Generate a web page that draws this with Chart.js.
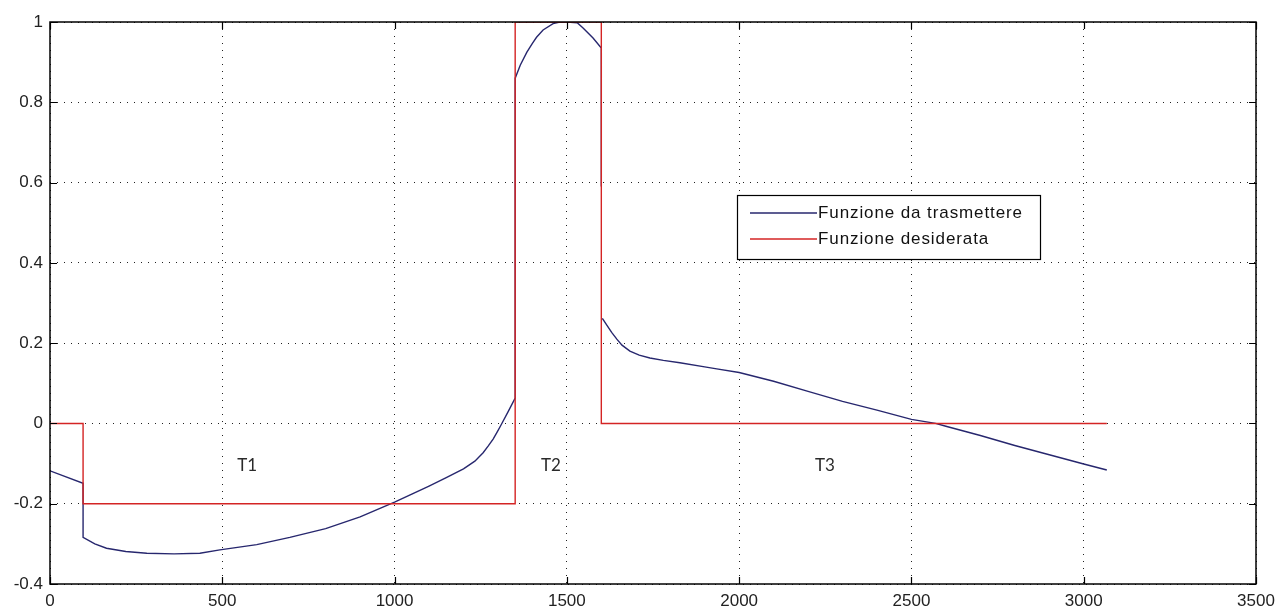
<!DOCTYPE html>
<html>
<head>
<meta charset="utf-8">
<script src="https://cdn.jsdelivr.net/npm/chart.js@4"></script>
<style>
  html, body { margin: 0; padding: 0; background: #fff; }
  #wrap { width: 1277px; height: 614px; }
</style>
</head>
<body>
<div id="wrap"><canvas id="chart" width="1277" height="614"></canvas></div>
<script>
// dati
const blueX = [0, 96, 96, 130, 164, 220, 281, 360, 435, 493, 600, 696, 800, 900, 1000, 1050, 1100, 1150, 1200, 1233, 1257, 1272, 1286, 1298, 1309, 1330, 1350,
  1350, 1365, 1384, 1400, 1412, 1431, 1460, 1480, 1500, 1530, 1547, 1576, 1600, 1600, 1601,
  1603, 1615, 1630, 1645, 1660, 1683, 1710, 1741, 1780, 1828, 1900, 1935, 2000, 2100, 2200, 2300, 2400, 2500, 2570, 2600, 2700, 2800, 2900, 3000, 3067];
const blueY = [-0.118, -0.149, -0.284, -0.3, -0.311, -0.319, -0.3235, -0.325, -0.3235, -0.315, -0.302, -0.284, -0.262, -0.233, -0.196, -0.176, -0.156, -0.135, -0.113, -0.094, -0.073, -0.056, -0.039, -0.021, -0.004, 0.03, 0.063,
  0.86, 0.893, 0.925, 0.947, 0.962, 0.98, 0.996, 1.0, 1.0, 0.998, 0.985, 0.96, 0.935, 0.59, null,
  0.262, 0.246, 0.227, 0.21, 0.195, 0.18, 0.17, 0.163, 0.157, 0.151, 0.141, 0.136, 0.127, 0.105, 0.08, 0.055, 0.033, 0.01, 0.0, -0.007, -0.03, -0.055, -0.078, -0.101, -0.116];

const redX = [0, 96, 96, 1350, 1350, 1600, 1600, 3067];
const redY = [0, 0, -0.2, -0.2, 1, 1, 0, 0];

const seriesNames = ['Funzione da trasmettere', 'Funzione desiderata'];
const seriesColors = ['#27276e', '#d42424'];

const xTicks = [0, 500, 1000, 1500, 2000, 2500, 3000, 3500];
const yTicks = [-0.4, -0.2, 0, 0.2, 0.4, 0.6, 0.8, 1];

const regionLabels = ['T1', 'T2', 'T3'];
const regionX = [572, 1454, 2249];
const regionY = [-0.104, -0.104, -0.104];

function toPoints(xs, ys) {
  return xs.map((x, i) => ({ x: x, y: ys[i] }));
}

// cornice, tacche interne, etichette e legenda stile MATLAB
const matlabFrame = {
  id: 'matlabFrame',
  afterDatasetsDraw(chart) {
    const ctx = chart.ctx;
    const a = chart.chartArea;
    const xs = chart.scales.x, ys = chart.scales.y;
    ctx.save();

    // testi T1 T2 T3
    ctx.fillStyle = '#2a2a2a';
    ctx.font = '17px Lato, "Open Sans", sans-serif';
    ctx.textAlign = 'center';
    ctx.textBaseline = 'middle';
    regionLabels.forEach((t, i) => {
      ctx.fillText(t, xs.getPixelForValue(regionX[i]), ys.getPixelForValue(regionY[i]));
    });

    // cornice
    ctx.strokeStyle = '#000';
    ctx.lineWidth = 1.5;
    ctx.strokeRect(a.left, a.top, a.right - a.left, a.bottom - a.top);

    // tacche interne
    ctx.lineWidth = 1.2;
    const tl = 7;
    ctx.beginPath();
    xTicks.forEach(v => {
      const px = Math.round(xs.getPixelForValue(v)) + 0.5;
      ctx.moveTo(px, a.bottom); ctx.lineTo(px, a.bottom - tl);
      ctx.moveTo(px, a.top); ctx.lineTo(px, a.top + tl);
    });
    yTicks.forEach(v => {
      const py = Math.round(ys.getPixelForValue(v)) + 0.5;
      ctx.moveTo(a.left, py); ctx.lineTo(a.left + tl, py);
      ctx.moveTo(a.right, py); ctx.lineTo(a.right - tl, py);
    });
    ctx.stroke();

    // legenda
    const lx = 737, ly = 195, lw = 303, lh = 64;
    ctx.fillStyle = '#fff';
    ctx.fillRect(lx, ly, lw, lh);
    ctx.strokeStyle = '#000';
    ctx.lineWidth = 1.2;
    ctx.strokeRect(lx + 0.5, ly + 0.5, lw, lh);
    ctx.font = '17px "Liberation Sans", Arial, sans-serif';
    if ('letterSpacing' in ctx) ctx.letterSpacing = '0.9px';
    ctx.textAlign = 'left';
    ctx.textBaseline = 'middle';
    seriesNames.forEach((name, i) => {
      const yy = ly + 18 + i * 26;
      ctx.strokeStyle = seriesColors[i];
      ctx.lineWidth = 1.3;
      ctx.beginPath();
      ctx.moveTo(lx + 13, yy); ctx.lineTo(lx + 80, yy);
      ctx.stroke();
      ctx.fillStyle = '#111';
      ctx.fillText(name, lx + 81, yy);
    });
    ctx.restore();
  }
};

const tickFont = { family: '"Liberation Sans", Arial, sans-serif', size: 17 };

new Chart(document.getElementById('chart'), {
  type: 'line',
  data: {
    datasets: [
      {
        label: seriesNames[0],
        data: toPoints(blueX, blueY),
        borderColor: seriesColors[0],
        borderWidth: 1.4,
        pointRadius: 0,
        tension: 0,
        spanGaps: false,
        order: 2
      },
      {
        label: seriesNames[1],
        data: toPoints(redX, redY),
        borderColor: seriesColors[1],
        borderWidth: 1.4,
        pointRadius: 0,
        tension: 0,
        order: 1
      }
    ]
  },
  options: {
    responsive: false,
    animation: false,
    layout: { padding: { left: 0, top: 22, right: 0, bottom: 0 } },
    scales: {
      x: {
        type: 'linear',
        min: 0,
        max: 3500,
        afterBuildTicks: s => { s.ticks = xTicks.map(v => ({ value: v })); },
        afterFit: s => { s.height = 30; s.paddingRight = 21; s.paddingLeft = 0; },
        grid: { color: '#222', lineWidth: 1, drawTicks: false },
        border: { display: false, dash: [1, 6] },
        ticks: { color: '#222', font: tickFont, padding: 7, maxRotation: 0, callback: v => String(v) }
      },
      y: {
        type: 'linear',
        min: -0.4,
        max: 1,
        afterBuildTicks: s => { s.ticks = yTicks.map(v => ({ value: v })); },
        afterFit: s => { s.width = 50; },
        grid: { color: '#222', lineWidth: 1, drawTicks: false },
        border: { display: false, dash: [1, 6] },
        ticks: { color: '#222', font: tickFont, padding: 7, callback: v => String(Math.round(v * 10) / 10) }
      }
    },
    plugins: {
      legend: { display: false },
      tooltip: { enabled: false }
    }
  },
  plugins: [matlabFrame]
});
</script>
</body>
</html>
